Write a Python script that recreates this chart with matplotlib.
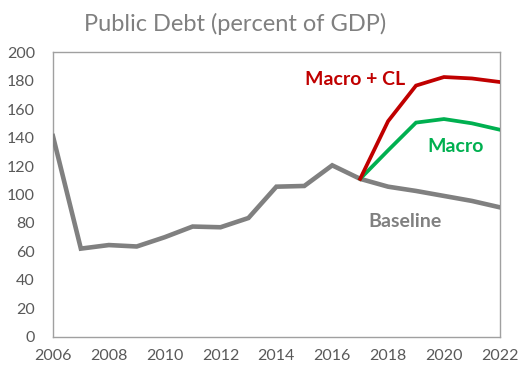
import matplotlib.pyplot as plt

# public debt scenarios, percent of GDP
years = list(range(2006, 2023))
baseline = [141, 62, 64.5, 63.5, 70, 77.5, 77, 83.5, 105.5, 106, 120.5, 111,
            105.5, 102.5, 99, 95.5, 91]
proj_years = list(range(2017, 2023))
macro = [111, 131, 150.5, 153, 150, 145.5]
macro_cl = [111, 151.5, 176.5, 182.5, 181.5, 179]

plt.rcParams['font.family'] = ['Lato', 'DejaVu Sans']

fig = plt.figure(figsize=(5.19, 3.67), dpi=100)
ax = fig.add_axes([0.102, 0.082, 0.861, 0.776])

ax.plot(years, baseline, color='#808080', lw=3.3, solid_joinstyle='miter', zorder=3)
ax.plot(proj_years, macro, color='#00b050', lw=2.7, solid_joinstyle='miter', zorder=4)
ax.plot(proj_years, macro_cl, color='#c00000', lw=2.7, solid_joinstyle='miter', zorder=5)

ax.set_xlim(2006, 2022)
ax.set_ylim(0, 200)
ax.set_xticks(range(2006, 2023, 2))
ax.set_yticks(range(0, 201, 20))
ax.tick_params(axis='y', length=0, labelsize=11.5, colors='#595959', pad=13)
ax.tick_params(axis='x', length=0, labelsize=11.5, colors='#595959', pad=9)
for s in ax.spines.values():
    s.set_color('#a0a0a0')
    s.set_linewidth(1.0)

ax.text(2016.8, 180.5, 'Macro + CL', color='#c00000', fontsize=14, fontweight='bold',
        ha='center', va='center')
ax.text(2020.4, 133.5, 'Macro', color='#00b050', fontsize=14, fontweight='bold',
        ha='center', va='center')
ax.text(2018.6, 81, 'Baseline', color='#808080', fontsize=14, fontweight='bold',
        ha='center', va='center')

fig.text(0.453, 0.935, 'Public Debt (percent of GDP)', color='#808080', fontsize=17,
         ha='center', va='center')

fig.savefig('out.png', dpi=100)
